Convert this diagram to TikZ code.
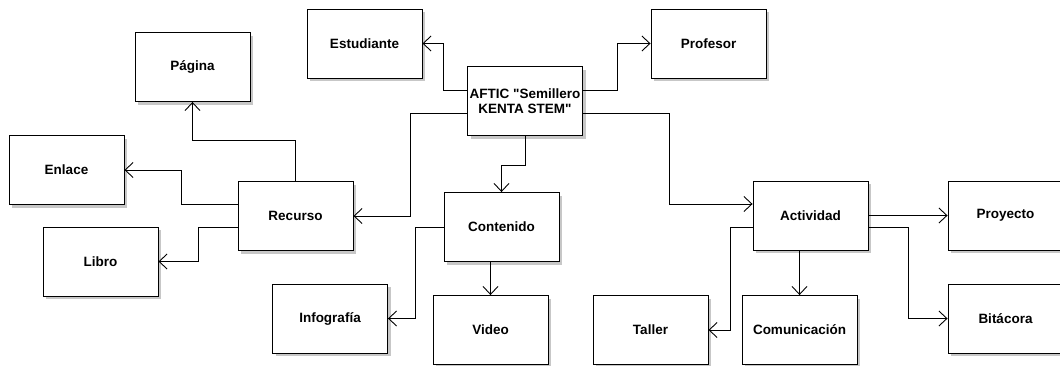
\documentclass[tikz,border=0pt]{standalone}
\usepackage{fontspec}
\setmainfont{Liberation Sans}[Ligatures=TeXOff]
\usetikzlibrary{arrows.meta,shadows}
\begin{document}
\begin{tikzpicture}[x=1pt,y=-1pt,
  concept/.style={draw=black, line width=0.9pt, fill=white,
    minimum width=115pt, minimum height=69pt, inner sep=2pt,
    align=center, font=\fontsize{13.5}{15}\selectfont\bfseries,
    drop shadow={shadow xshift=3pt, shadow yshift=-3pt, fill=black!22, opacity=1}},
  link/.style={draw=black, line width=0.9pt,
    -{Straight Barb[length=8pt,width=15pt,line width=0.9pt]}}]
\useasboundingbox (0,0) rectangle (1060,365);

% central concept
\node[concept] (aftic) at (525,101) {AFTIC "Semillero\\KENTA STEM"};

% first level
\node[concept] (estud) at (364.5,43.5) {Estudiante};
\node[concept] (prof)  at (708.5,43.5) {Profesor};
\node[concept] (recur) at (295.5,216)  {Recurso};
\node[concept] (cont)  at (501.5,227)  {Contenido};
\node[concept] (activ) at (810.5,215.5) {Actividad};

% resources
\node[concept] (pag)   at (192.5,67)   {Página};
\node[concept] (enl)   at (66.5,170)   {Enlace};
\node[concept] (libro) at (100.5,261.5) {Libro};

% contents
\node[concept] (info)  at (330,318.5)  {Infografía};
\node[concept] (video) at (490.5,330)  {Video};

% activities
\node[concept] (proy)  at (1005.5,215.5) {Proyecto};
\node[concept] (bita)  at (1005.5,318.5) {Bitácora};
\node[concept] (comu)  at (799.5,330)  {Comunicación};
\node[concept] (tall)  at (650.5,330)  {Taller};

% connectors from the central concept
\draw[link] ([yshift=11pt]aftic.west) -- ++(-24pt,0pt) |- (estud.east);
\draw[link] ([yshift=11pt]aftic.east) -- ++(34pt,0pt) |- (prof.west);
\draw[link] ([yshift=-12pt]aftic.west) -- ++(-57pt,0pt) |- (recur.east);
\draw[link] ([yshift=-12pt]aftic.east) -- ++(86pt,0pt) |- ([yshift=11.5pt]activ.west);
\draw[link] (aftic.south) -- ++(0pt,-29pt) -| (cont.north);

% connectors from Recurso
\draw[link] (recur.north) -- ++(0pt,41pt) -| (pag.south);
\draw[link] ([yshift=12pt]recur.west) -- ++(-56pt,0pt) |- (enl.east);
\draw[link] ([yshift=-11pt]recur.west) -- ++(-39pt,0pt) |- (libro.east);

% connectors from Contenido
\draw[link] (cont.west) -- ++(-28pt,0pt) |- (info.east);
\draw[link] (video.north |- cont.south) -- (video.north);

% connectors from Actividad
\draw[link] (activ.east) -- (proy.west);
\draw[link] ([yshift=-11.5pt]activ.east) -- ++(40pt,0pt) |- (bita.west);
\draw[link] (comu.north |- activ.south) -- (comu.north);
\draw[link] ([yshift=-11.5pt]activ.west) -- ++(-22pt,0pt) |- (tall.east);
\end{tikzpicture}
\end{document}
